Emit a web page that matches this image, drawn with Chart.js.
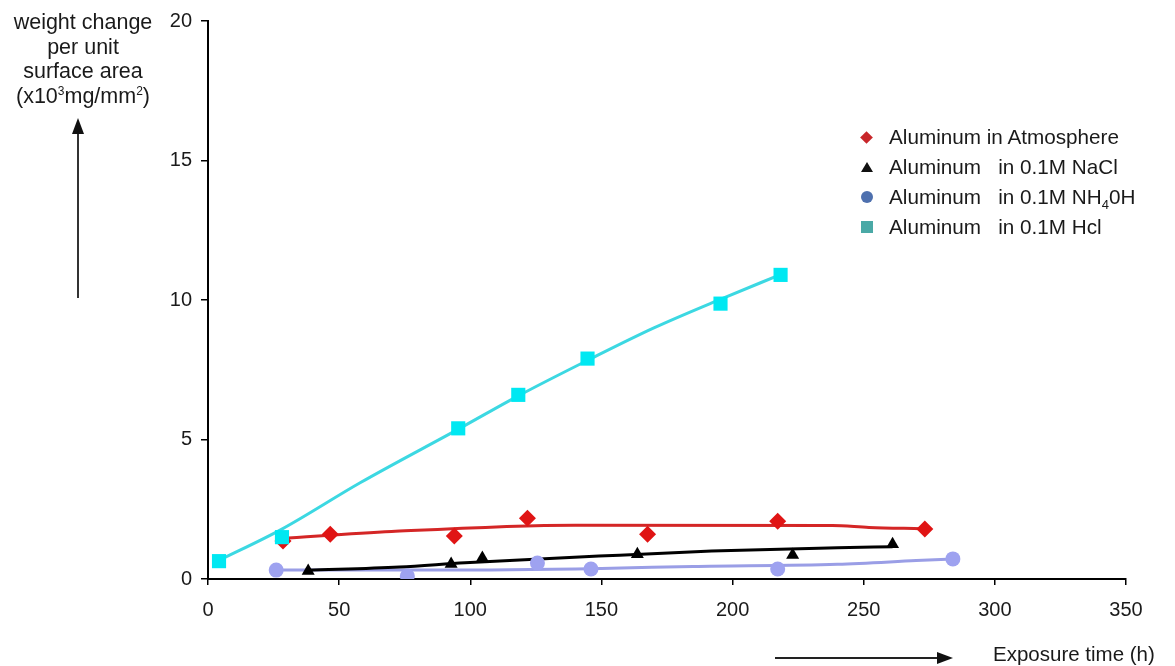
<!DOCTYPE html>
<html>
<head>
<meta charset="utf-8">
<script src="https://cdn.jsdelivr.net/npm/chart.js@4.4.1/dist/chart.umd.min.js"></script>
<style>
  html, body { margin: 0; padding: 0; background: #fff; }
  #wrap { position: relative; width: 1175px; height: 666px; font-family: "Liberation Sans", Arial, sans-serif; color: #1a1a1a; }
  #chart { position: absolute; left: 0; top: 0; }
  #ytitle { position: absolute; left: 2px; top: 10px; width: 162px; text-align: center; font-size: 21.5px; line-height: 24.7px; }
  #ytitle sup { font-size: 12px; vertical-align: 8px; line-height: 0; }
  #xtitle { position: absolute; left: 993px; top: 642px; font-size: 20.5px; white-space: nowrap; }
  .arrow-v { position: absolute; left: 77px; top: 132px; width: 2px; height: 166px; background: #333; }
  .head-up { position: absolute; left: 72px; top: 118px; width: 0; height: 0; border-left: 6px solid transparent; border-right: 6px solid transparent; border-bottom: 16px solid #111; }
  .arrow-h { position: absolute; left: 775px; top: 657px; width: 164px; height: 2px; background: #222; }
  .head-right { position: absolute; left: 937px; top: 652px; width: 0; height: 0; border-top: 6px solid transparent; border-bottom: 6px solid transparent; border-left: 16px solid #111; }
  #legend { position: absolute; left: 0; top: 0; }
  .row { position: absolute; left: 889px; font-size: 20.7px; white-space: nowrap; line-height: 24px; }
  .row sub { font-size: 13px; vertical-align: -5px; line-height: 0; }
  .mk { position: absolute; }
</style>
</head>
<body>
<div id="wrap">
  <canvas id="chart" width="1175" height="666"></canvas>
  <div id="ytitle">weight change<br>per unit<br>surface area<br>(x10<sup>3</sup>mg/mm<sup>2</sup>)</div>
  <div class="arrow-v"></div><div class="head-up"></div>
  <div class="arrow-h"></div><div class="head-right"></div>
  <div id="xtitle">Exposure time (h)</div>
  <div id="legend"></div>
</div>
<script>
// measured points (hours, weight change)
const atmosX = [28.6, 46.6, 93.9, 121.8, 167.6, 217.2, 273.3];
const atmosY = [1.36, 1.6, 1.54, 2.18, 1.6, 2.07, 1.79];
const naclX = [38.2, 92.7, 104.6, 163.7, 222.9, 261];
const naclY = [0.29, 0.54, 0.75, 0.89, 0.86, 1.25];
const nh4ohX = [26, 76, 125.6, 146, 217.2, 284];
const nh4ohY = [0.32, 0.11, 0.57, 0.36, 0.36, 0.72];
const hclX = [4.2, 28.2, 95.4, 118.3, 144.7, 195.4, 218.3];
const hclY = [0.64, 1.5, 5.4, 6.6, 7.9, 9.87, 10.9];

// trend curves
const atmosFitX = [28, 70, 140, 238, 252, 272];
const atmosFitY = [1.45, 1.7, 1.93, 1.92, 1.85, 1.8];
const naclFitX = [38, 73, 98, 149, 192, 240, 261];
const naclFitY = [0.31, 0.43, 0.58, 0.82, 1.0, 1.12, 1.16];
const nh4ohFitX = [26, 90, 150, 185, 240, 270, 284];
const nh4ohFitY = [0.32, 0.32, 0.38, 0.45, 0.53, 0.66, 0.72];
const hclFitX = [4, 28, 58, 96, 119, 145, 170, 196, 218];
const hclFitY = [0.66, 1.78, 3.45, 5.4, 6.6, 7.85, 9.0, 10.05, 10.9];

const xTicks = [0, 50, 100, 150, 200, 250, 300, 350];
const yTicks = [0, 5, 10, 15, 20];

const legendNames = ['Aluminum in Atmosphere', 'Aluminum&nbsp;&nbsp; in 0.1M NaCl', 'Aluminum&nbsp;&nbsp; in 0.1M NH<sub>4</sub>0H', 'Aluminum&nbsp;&nbsp; in 0.1M Hcl'];

function pts(xs, ys) {
    return xs.map((x, i) => ({ x: x, y: ys[i] }));
}

function markers(xs, ys, style, color, r) {
    return {
        data: pts(xs, ys),
        showLine: false,
        pointStyle: style,
        pointRadius: r,
        pointBackgroundColor: color,
        pointBorderColor: color,
        pointBorderWidth: 0
    };
}

function curve(xs, ys, color) {
    return {
        data: pts(xs, ys),
        showLine: true,
        borderColor: color,
        borderWidth: 3,
        pointRadius: 0,
        cubicInterpolationMode: 'monotone'
    };
}

const font = { family: '"Liberation Sans", Arial, sans-serif', size: 20 };

new Chart(document.getElementById('chart'), {
    type: 'scatter',
    data: {
        datasets: [
            markers(hclX, hclY, 'rect', '#00e8f2', 10),
            markers(atmosX, atmosY, 'rectRot', '#e01414', 8.5),
            markers(naclX, naclY, 'triangle', '#000000', 7.5),
            markers(nh4ohX, nh4ohY, 'circle', '#9ea2f0', 7.5),
            curve(hclFitX, hclFitY, '#3cd8e2'),
            curve(atmosFitX, atmosFitY, '#d42626'),
            curve(naclFitX, naclFitY, '#000000'),
            curve(nh4ohFitX, nh4ohFitY, '#9a9ee6')
        ]
    },
    options: {
        responsive: false,
        animation: false,
        layout: { padding: { left: 0, top: 19, right: 49, bottom: 0 } },
        plugins: { legend: { display: false }, tooltip: { enabled: false } },
        scales: {
            x: {
                type: 'linear',
                min: 0,
                max: 350,
                afterBuildTicks: s => { s.ticks = xTicks.map(v => ({ value: v })); },
                afterFit: s => { s.height = 87; },
                border: { display: true, color: '#000', width: 2 },
                grid: { drawOnChartArea: false, color: '#000', lineWidth: 1.5, tickLength: 6 },
                ticks: { font: font, color: '#1a1a1a', padding: 13, maxRotation: 0 }
            },
            y: {
                type: 'linear',
                min: 0,
                max: 20,
                afterBuildTicks: s => { s.ticks = yTicks.map(v => ({ value: v })); },
                afterFit: s => { s.width = 208; },
                border: { display: true, color: '#000', width: 2 },
                grid: { drawOnChartArea: false, color: '#000', lineWidth: 1.5, tickLength: 7 },
                ticks: { font: font, color: '#1a1a1a', padding: 9 }
            }
        }
    }
});

// legend (html so the subscript stays real text)
const legendRowsY = [137, 167, 197, 227];
const legendMarks = [
    'left:862px;width:9px;height:9px;background:#c8262a;transform:rotate(45deg);',
    'left:861px;width:0;height:0;border-left:6px solid transparent;border-right:6px solid transparent;border-bottom:10px solid #111;',
    'left:861px;width:12px;height:12px;border-radius:50%;background:#4e70ae;',
    'left:861px;width:12px;height:12px;background:#4aa9a6;'
];
const legend = document.getElementById('legend');
legendNames.forEach((name, i) => {
    const y = legendRowsY[i];
    const row = document.createElement('div');
    row.className = 'row';
    row.style.top = (y - 12) + 'px';
    row.innerHTML = name;
    legend.appendChild(row);
    const mk = document.createElement('div');
    mk.className = 'mk';
    const h = i === 0 ? 9 : (i === 1 ? 10 : 12);
    mk.style.cssText = legendMarks[i] + 'top:' + (y - h / 2) + 'px;';
    legend.appendChild(mk);
});
</script>
</body>
</html>
